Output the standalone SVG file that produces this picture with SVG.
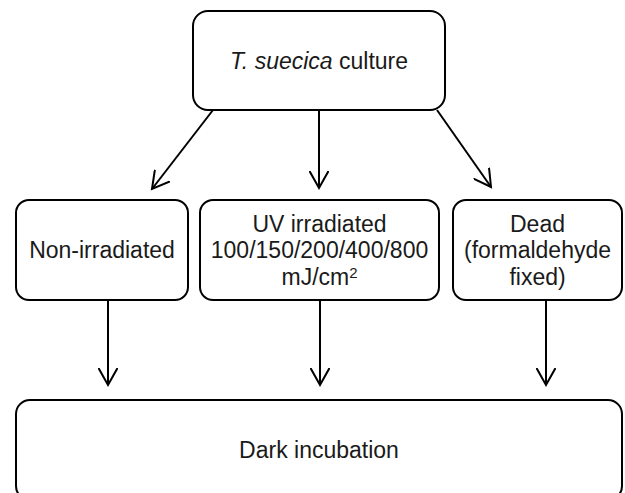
<svg xmlns="http://www.w3.org/2000/svg" width="625" height="493" viewBox="0 0 625 493">
<style>
.box{fill:#ffffff;stroke:#000000;stroke-width:2}
.t{font-family:"Liberation Sans",Arial,sans-serif;font-size:23px;fill:#1a1a1a;text-anchor:middle}
.c{stroke:#000000;stroke-width:2;fill:none;marker-end:url(#ah)}
</style>
<defs>
<marker id="ah" viewBox="0 0 20 20" refX="17" refY="10" markerWidth="20" markerHeight="20" markerUnits="userSpaceOnUse" orient="auto">
<path d="M0,0.5 L17,10 L0,19.5" fill="none" stroke="#000000" stroke-width="2"/>
</marker>
</defs>
<rect width="625" height="493" fill="#ffffff"/>
<g id="connectors">
<line class="c" x1="213" y1="110" x2="152" y2="189"/>
<line class="c" x1="319" y1="110" x2="319" y2="188"/>
<line class="c" x1="437" y1="110" x2="491" y2="187"/>
<line class="c" x1="108" y1="300" x2="108" y2="385"/>
<line class="c" x1="320" y1="300" x2="320" y2="385"/>
<line class="c" x1="546" y1="300" x2="546" y2="385"/>
</g>
<g id="culture">
<rect class="box" x="193" y="11" width="252" height="99" rx="15"/>
<text class="t" x="319" y="69"><tspan font-style="italic">T. suecica</tspan> culture</text>
</g>
<g id="non-irradiated">
<rect class="box" x="16" y="200" width="172" height="100" rx="13"/>
<text class="t" x="102" y="258">Non-irradiated</text>
</g>
<g id="uv-irradiated">
<rect class="box" x="200" y="200" width="239" height="100" rx="13"/>
<text class="t" x="319.5" y="232">UV irradiated</text>
<text class="t" x="319.5" y="258">100/150/200/400/800</text>
<text class="t" x="319.5" y="285">mJ/cm<tspan font-size="15" dy="-7">2</tspan></text>
</g>
<g id="dead">
<rect class="box" x="453" y="200" width="169" height="100" rx="13"/>
<text class="t" x="537.5" y="232">Dead</text>
<text class="t" x="537.5" y="258">(formaldehyde</text>
<text class="t" x="537.5" y="285">fixed)</text>
</g>
<g id="dark-incubation">
<rect class="box" x="16" y="400" width="606" height="100" rx="14"/>
<text class="t" x="319" y="458">Dark incubation</text>
</g>
</svg>
